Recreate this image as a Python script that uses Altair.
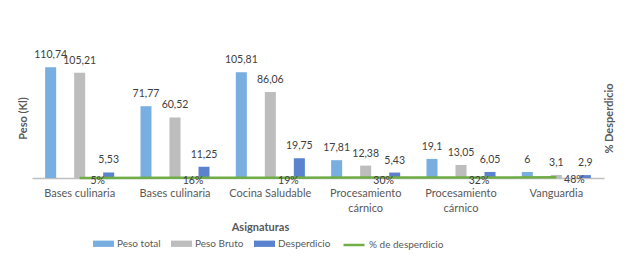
import altair as alt
import pandas as pd
import json

categories = ["Bases culinaria", "Bases culinaria", "Cocina Saludable",
              "Procesamiento cárnico", "Procesamiento cárnico", "Vanguardia"]
peso_total = [110.74, 71.77, 105.81, 17.81, 19.1, 6]
peso_bruto = [105.21, 60.52, 86.06, 12.38, 13.05, 3.1]
desperdicio = [5.53, 11.25, 19.75, 5.43, 6.05, 2.9]
pct_desperdicio = [0.05, 0.16, 0.19, 0.30, 0.32, 0.48]

series = ["Peso total", "Peso Bruto", "Desperdicio"]
colors = ["#78AEE0", "#BDBDBD", "#5A82CE"]
line_name = "% de desperdicio"

FONT = "Lato"
TXT = "#595959"

rows = []
for i, c in enumerate(categories):
    for s, vals in zip(series, [peso_total, peso_bruto, desperdicio]):
        v = vals[i]
        rows.append({"idx": i, "cat": c, "serie": s, "valor": v,
                     "lbl": (f"{v:g}").replace(".", ",")})
bars_df = pd.DataFrame(rows)
line_df = pd.DataFrame({"idx": list(range(len(categories))), "cat": categories,
                        "pct": pct_desperdicio, "serie": [line_name] * len(categories)})


def wrap(t):
    if len(t) > 16:
        return t.split(" ")
    return [t]


label_arr = json.dumps([wrap(c) for c in categories], ensure_ascii=False)
label_expr = f"{label_arr}[toNumber(datum.value)]"

x_enc = alt.X("idx:N", sort=list(range(len(categories))),
              scale=alt.Scale(paddingInner=0, paddingOuter=0),
              axis=alt.Axis(title="Asignaturas", labelExpr=label_expr, labelAngle=0,
                            ticks=False, domainColor="#BFBFBF", domainWidth=1.5,
                            labelPadding=9, labelFontSize=11, labelColor=TXT,
                            labelFont=FONT, labelLineHeight=15,
                            titleFont=FONT, titleFontSize=11, titleColor=TXT,
                            titleFontWeight="bold", titleX=228, titleY=49,
                            titleBaseline="middle"))

xoff = alt.XOffset("serie:N", sort=series,
                   scale=alt.Scale(paddingInner=0.62, paddingOuter=0.453))

y_bar = alt.Y("valor:Q", scale=alt.Scale(domain=[0, 140], nice=False),
              axis=alt.Axis(title="Peso (Kl)", labels=False, ticks=False, domain=False,
                            grid=False, titleFont=FONT, titleFontSize=11,
                            titleColor=TXT, titleFontWeight="bold", titleX=-9,
                            titleY=80, titleAngle=270, titleAlign="center",
                            titleBaseline="middle"))

bars = alt.Chart(bars_df).mark_bar().encode(
    x=x_enc,
    xOffset=xoff,
    y=y_bar,
    fill=alt.Fill("serie:N", sort=series,
                  scale=alt.Scale(domain=series, range=colors),
                  legend=alt.Legend(title=None, orient="none", direction="horizontal",
                                    legendX=61, legendY=195, columns=3,
                                    symbolType="M-1,-0.3H1V0.3H-1Z", symbolSize=441,
                                    symbolStrokeWidth=0, labelFont=FONT,
                                    labelFontSize=10, labelColor=TXT, labelOffset=3,
                                    columnPadding=10)),
)

bar_text = alt.Chart(bars_df).mark_text(
    baseline="bottom", dy=-7, fontSize=10.5, font=FONT, color="#404040"
).encode(
    x=alt.X("idx:N", sort=list(range(len(categories)))),
    xOffset=xoff,
    y=alt.Y("valor:Q"),
    text="lbl:N",
)

y_line = alt.Y("pct:Q", scale=alt.Scale(domain=[0, 100], nice=False),
               axis=alt.Axis(title="% Desperdicio", orient="right", labels=False,
                             ticks=False, domain=False, grid=False, titleFont=FONT,
                             titleFontSize=11, titleColor=TXT, titleFontWeight="bold",
                             titleX=5, titleY=80, titleAngle=270,
                             titleAlign="center", titleBaseline="middle"))

pct_text = alt.Chart(line_df).mark_text(
    baseline="middle", dx=18, dy=3, fontSize=10.5, font=FONT, color="#404040"
).encode(
    x=alt.X("idx:N", sort=list(range(len(categories)))),
    y=alt.Y("pct:Q"),
    text=alt.Text("pct:Q", format=".0%"),
)

line = alt.Chart(line_df).mark_line(strokeWidth=2.5).encode(
    x=alt.X("idx:N", sort=list(range(len(categories)))),
    y=y_line,
    stroke=alt.Stroke("serie:N", scale=alt.Scale(domain=[line_name], range=["#70AD47"]),
                      legend=alt.Legend(title=None, orient="none", legendX=310,
                                        legendY=195, symbolType="stroke",
                                        symbolSize=441, symbolStrokeWidth=2.5,
                                        labelFont=FONT, labelFontSize=10,
                                        labelColor=TXT, labelOffset=3)),
)

chart = alt.layer(
    alt.layer(bars, bar_text),
    alt.layer(line, pct_text),
).resolve_scale(y="independent", fill="independent", stroke="independent").properties(
    width=572, height=140,
    autosize=alt.AutoSizeParams(type="none"),
    padding={"left": 24, "top": 30, "right": 24, "bottom": 73},
    background="white",
).configure_view(strokeWidth=0, stroke=None)

chart.save("out.html", embed_options={"renderer": "svg", "actions": False})
